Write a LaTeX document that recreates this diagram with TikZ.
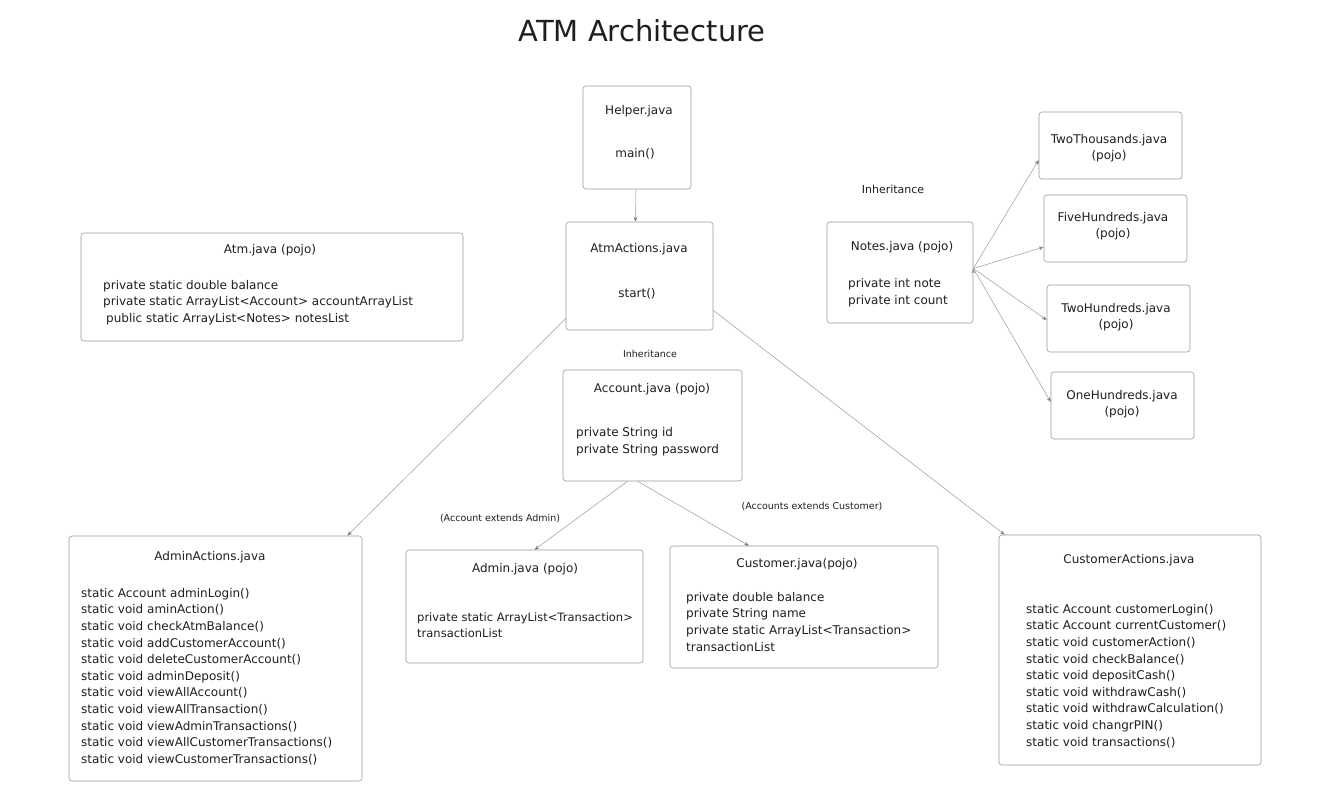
\documentclass[tikz,border=0pt]{standalone}
\usepackage{fontspec}
\setmainfont{DejaVu Sans}
\usetikzlibrary{arrows.meta,fit}
\definecolor{ink}{HTML}{1E1E1E}
\definecolor{edgegray}{HTML}{9A9A9A}
\begin{document}
\begin{tikzpicture}[
            x=1pt, y=-1pt,
            box/.style={draw=edgegray,rounded corners=3pt,line width=0.6pt,inner sep=0pt},
            ttl/.style={inner sep=0pt,text=ink,font=\fontsize{12}{16.6}\selectfont},
            txt/.style={anchor=north west,inner sep=0pt,align=left,text=ink,font=\fontsize{12}{16.6}\selectfont},
            note/.style={inner sep=0pt,text=ink,font=\fontsize{9.5}{11}\selectfont},
            link/.style={draw=edgegray,line width=0.5pt,-{Stealth[length=5pt,width=4pt]}}
        ]

        \useasboundingbox (0,0) rectangle (1335,785);

        \node[inner sep=0pt,text=ink,font=\fontsize{29}{32}\selectfont] (title) at (642,31) {ATM Architecture};

        % boxes
        \node[box,fit={(583,86) (691,189)}] (helper) {};
        \node[box,fit={(566,222) (713,330)}] (atmact) {};
        \node[box,fit={(81,233) (463,341)}] (atm) {};
        \node[box,fit={(827,222) (973,323)}] (notes) {};
        \node[box,fit={(1039,112) (1182,179)}] (twoth) {};
        \node[box,fit={(1044,195) (1187,262)}] (fiveh) {};
        \node[box,fit={(1047,285) (1190,352)}] (twoh) {};
        \node[box,fit={(1051,372) (1194,439)}] (oneh) {};
        \node[box,fit={(563,370) (742,481)}] (account) {};
        \node[box,fit={(406,550) (643,663)}] (admin) {};
        \node[box,fit={(670,546) (938,668)}] (customer) {};
        \node[box,fit={(69,536) (362,781)}] (adminact) {};
        \node[box,fit={(999,535) (1261,765)}] (custact) {};

        % texts
        \node[ttl] at (639,111) {Helper.java};
        \node[ttl] at (635,154) {main()};
        \node[ttl] at (639,249) {AtmActions.java};
        \node[ttl] at (637,294) {start()};

        \node[ttl] at (270,250) {Atm.java (pojo)};
        \node[txt] at (103,280) {private static double balance\\
            private static ArrayList<Account> accountArrayList\\
            \hspace{3pt}public static ArrayList<Notes> notesList};

        \node[ttl,font=\fontsize{11}{12}\selectfont] at (893,189) {Inheritance};
        \node[ttl] at (902,247) {Notes.java (pojo)};
        \node[txt,font=\fontsize{12}{17}\selectfont] at (848,278) {private int note\\private int count};

        \node[ttl,align=center] at (1109,148) {TwoThousands.java\\(pojo)};
        \node[ttl,align=center] at (1113,226) {FiveHundreds.java\\(pojo)};
        \node[ttl,align=center] at (1116,317) {TwoHundreds.java\\(pojo)};
        \node[ttl,align=center] at (1122,404) {OneHundreds.java\\(pojo)};

        \node[note] at (650,354) {Inheritance};
        \node[ttl] at (652,389) {Account.java (pojo)};
        \node[txt,font=\fontsize{12}{17}\selectfont] at (576,427) {private String id\\private String password};

        \node[note] at (500,519) {(Account extends Admin)};
        \node[note] at (812,507) {(Accounts extends Customer)};

        \node[ttl] at (525,569) {Admin.java (pojo)};
        \node[txt,font=\fontsize{11.5}{15.5}\selectfont] at (417,613) {private static ArrayList<Transaction>\\transactionList};

        \node[ttl] at (797,564) {Customer.java(pojo)};
        \node[txt] at (686,592) {private double balance\\
            private String name\\
            private static ArrayList<Transaction>\\
            transactionList};

        \node[ttl] at (210,557) {AdminActions.java};
        \node[txt] at (81,588) {static Account adminLogin()\\
            static void aminAction()\\
            static void checkAtmBalance()\\
            static void addCustomerAccount()\\
            static void deleteCustomerAccount()\\
            static void adminDeposit()\\
            static void viewAllAccount()\\
            static void viewAllTransaction()\\
            static void viewAdminTransactions()\\
            static void viewAllCustomerTransactions()\\
            static void viewCustomerTransactions()};

        \node[ttl] at (1129,560) {CustomerActions.java};
        \node[txt] at (1026,604) {static Account customerLogin()\\
            static Account currentCustomer()\\
            static void customerAction()\\
            static void checkBalance()\\
            static void depositCash()\\
            static void withdrawCash()\\
            static void withdrawCalculation()\\
            static void changrPIN()\\
            static void transactions()};

        % connectors
        \draw[link]
            ([xshift=-1pt]helper.south) edge ([xshift=-4pt]atmact.north)
            (atmact.210) edge ([xshift=-15pt]adminact.north east)
            (atmact.-25) edge ([xshift=6pt]custact.north west)
            ([xshift=-25pt]account.south) edge ([xshift=10pt]admin.north)
            ([xshift=-15pt]account.south) edge ([xshift=-55pt]customer.north)
            ([yshift=4pt]notes.east) edge ([yshift=-14.5pt]twoth.west)
            ([yshift=4pt]notes.east) edge ([yshift=-18.5pt]fiveh.west)
            ([yshift=4pt]notes.east) edge ([yshift=-1.5pt]twoh.west)
            ([yshift=4pt]notes.east) edge ([yshift=3.5pt]oneh.west)
        ;

\end{tikzpicture}
\end{document}
